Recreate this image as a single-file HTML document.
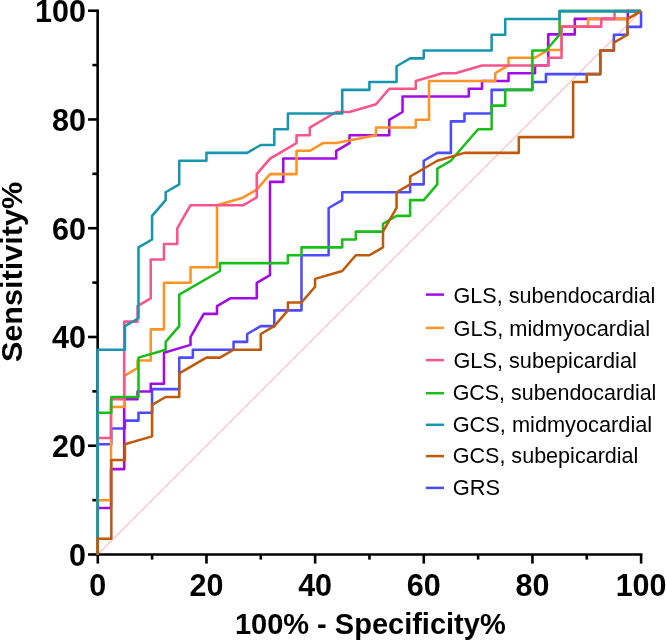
<!DOCTYPE html>
<html lang="en">
<head>
<meta charset="utf-8">
<title>ROC curves</title>
<style>
html,body{margin:0;padding:0;background:#fff;}
body{width:666px;height:641px;overflow:hidden;}
svg{display:block;will-change:transform;}
.tick{font-family:"Liberation Sans",sans-serif;font-weight:700;font-size:30.5px;fill:#000;}
.title{font-family:"Liberation Sans",sans-serif;font-weight:700;font-size:29px;fill:#000;}
.leg{font-family:"Liberation Sans",sans-serif;font-weight:400;font-size:21.6px;fill:#000;}
</style>
</head>
<body>
<svg width="666" height="641" viewBox="0 0 666 641">
<rect x="0" y="0" width="666" height="641" fill="#ffffff"/>
<line x1="97.80" y1="554.50" x2="641.10" y2="11.20" stroke="#ff2d3c" stroke-width="0.5"/>
<g stroke="#000" stroke-width="2.60" fill="none" stroke-linecap="butt">
<line x1="97.65" y1="9.40" x2="97.65" y2="555.80"/>
<line x1="96.35" y1="554.50" x2="642.40" y2="554.50"/>
<line x1="88.05" y1="554.50" x2="97.65" y2="554.50"/>
<line x1="97.80" y1="554.50" x2="97.80" y2="563.60"/>
<line x1="92.35" y1="500.12" x2="97.65" y2="500.12"/>
<line x1="152.13" y1="554.50" x2="152.13" y2="559.60"/>
<line x1="88.05" y1="445.74" x2="97.65" y2="445.74"/>
<line x1="206.46" y1="554.50" x2="206.46" y2="563.60"/>
<line x1="92.35" y1="391.36" x2="97.65" y2="391.36"/>
<line x1="260.79" y1="554.50" x2="260.79" y2="559.60"/>
<line x1="88.05" y1="336.98" x2="97.65" y2="336.98"/>
<line x1="315.12" y1="554.50" x2="315.12" y2="563.60"/>
<line x1="92.35" y1="282.60" x2="97.65" y2="282.60"/>
<line x1="369.45" y1="554.50" x2="369.45" y2="559.60"/>
<line x1="88.05" y1="228.22" x2="97.65" y2="228.22"/>
<line x1="423.78" y1="554.50" x2="423.78" y2="563.60"/>
<line x1="92.35" y1="173.84" x2="97.65" y2="173.84"/>
<line x1="478.11" y1="554.50" x2="478.11" y2="559.60"/>
<line x1="88.05" y1="119.46" x2="97.65" y2="119.46"/>
<line x1="532.44" y1="554.50" x2="532.44" y2="563.60"/>
<line x1="92.35" y1="65.08" x2="97.65" y2="65.08"/>
<line x1="586.77" y1="554.50" x2="586.77" y2="559.60"/>
<line x1="88.05" y1="10.70" x2="97.65" y2="10.70"/>
<line x1="641.10" y1="554.50" x2="641.10" y2="563.60"/>
</g>
<g class="tick" text-anchor="end">
<text x="86.0" y="566.00">0</text>
<text x="86.0" y="457.24">20</text>
<text x="86.0" y="348.48">40</text>
<text x="86.0" y="239.72">60</text>
<text x="86.0" y="130.96">80</text>
<text x="86.0" y="22.20">100</text>
</g>
<g class="tick" text-anchor="middle">
<text x="97.80" y="595.6">0</text>
<text x="206.46" y="595.6">20</text>
<text x="315.12" y="595.6">40</text>
<text x="423.78" y="595.6">60</text>
<text x="532.44" y="595.6">80</text>
<text x="641.10" y="595.6">100</text>
</g>
<text class="title" x="370.3" y="634.4" text-anchor="middle">100% - Specificity%</text>
<text class="title" transform="translate(22.4 272) rotate(-90) scale(1.055 1)" text-anchor="middle">Sensitivity%</text>
<g fill="none" stroke-width="2.55" stroke-linejoin="round" stroke-linecap="butt">
<polyline stroke="#4B4BFF" points="97.75,554.50 97.75,444.24 111.33,444.24 111.33,428.49 124.92,428.49 124.92,420.62 138.50,420.62 138.50,412.74 152.08,412.74 152.08,389.12 179.25,389.12 179.25,357.62 192.83,357.62 192.83,349.74 233.57,349.74 233.57,341.87 247.16,341.87 247.16,333.99 260.74,326.11 274.32,326.11 274.32,310.36 301.49,310.36 301.49,255.24 328.65,255.24 328.65,207.98 342.24,200.11 342.24,192.23 410.15,192.23 410.15,184.36 423.73,184.36 423.73,160.73 437.31,152.86 450.90,152.86 450.90,121.36 464.48,121.36 464.48,113.48 491.64,113.48 491.64,89.85 532.39,89.85 532.39,81.98 545.97,81.98 545.97,74.10 600.30,74.10 600.30,50.48 613.89,50.48 613.89,34.73 627.47,34.73 627.47,26.85 641.05,26.85 641.05,11.10"/>
<polyline stroke="#A30BE6" points="97.75,554.50 97.75,507.92 111.00,507.92 111.00,469.11 124.25,469.11 124.25,399.24 137.50,399.24 137.50,391.48 150.75,391.48 150.75,383.72 164.01,383.72 164.01,352.67 190.51,344.90 190.51,337.14 203.76,313.85 217.01,313.85 217.01,306.09 230.26,298.33 256.76,298.33 256.76,282.80 270.02,275.04 270.02,181.88 283.27,181.88 283.27,158.59 336.27,158.59 336.27,150.83 349.52,143.07 349.52,135.31 389.28,135.31 389.28,119.78 402.53,112.02 402.53,96.49 468.78,96.49 468.78,88.73 482.04,88.73 482.04,80.97 508.54,80.97 508.54,73.20 535.04,73.20 535.04,65.44 548.29,65.44 548.29,34.39 574.79,34.39 574.79,18.86 627.80,18.86 627.80,11.10 641.05,11.10"/>
<polyline stroke="#FF9326" points="97.75,554.50 97.75,500.16 111.00,500.16 111.00,407.01 124.25,407.01 124.25,375.95 137.50,368.19 137.50,360.43 150.75,360.43 150.75,329.38 164.01,329.38 164.01,282.80 190.51,282.80 190.51,267.27 217.01,267.27 217.01,205.17 243.51,197.41 256.76,189.65 270.02,174.12 296.52,174.12 296.52,150.83 309.77,150.83 323.02,143.07 336.27,143.07 376.03,135.31 376.03,127.54 415.78,127.54 415.78,119.78 429.03,119.78 429.03,80.97 495.29,80.97 495.29,73.20 508.54,65.44 508.54,57.68 535.04,57.68 548.29,49.91 561.54,49.91 561.54,26.63 588.05,26.63 588.05,18.86 627.80,18.86 641.05,11.10"/>
<polyline stroke="#F7558C" points="97.75,554.50 97.75,438.06 111.00,438.06 111.00,399.24 124.25,399.24 124.25,321.61 137.50,321.61 137.50,306.09 150.75,298.33 150.75,259.51 164.01,259.51 164.01,243.99 177.26,243.99 177.26,228.46 190.51,205.17 243.51,205.17 256.76,197.41 256.76,174.12 270.02,158.59 296.52,143.07 296.52,135.31 309.77,135.31 309.77,127.54 336.27,112.02 349.52,112.02 376.03,104.25 389.28,88.73 415.78,88.73 415.78,80.97 442.28,73.20 455.53,73.20 482.04,65.44 548.29,65.44 548.29,57.68 561.54,57.68 561.54,26.63 601.30,26.63 601.30,18.86 614.55,18.86 614.55,11.10 641.05,11.10"/>
<polyline stroke="#19BE19" points="97.75,554.50 97.75,412.74 111.33,412.74 111.33,396.99 138.50,396.99 138.50,357.62 165.66,349.74 165.66,341.87 179.25,326.11 179.25,294.61 219.99,270.99 219.99,263.11 287.91,263.11 287.91,255.24 301.49,255.24 301.49,247.36 342.24,247.36 342.24,239.49 355.82,239.49 355.82,231.61 382.98,231.61 382.98,223.73 396.57,215.86 410.15,215.86 410.15,200.11 423.73,200.11 437.31,184.36 437.31,168.61 450.90,160.73 478.06,129.23 491.64,129.23 491.64,105.60 505.23,105.60 505.23,89.85 532.39,89.85 532.39,50.48 545.97,50.48 559.56,34.73 559.56,18.98 559.56,11.10 641.05,11.10"/>
<polyline stroke="#1996AF" points="97.75,554.50 97.75,349.74 124.92,349.74 124.92,326.11 138.50,318.24 138.50,247.36 152.08,239.49 152.08,215.86 165.66,200.11 165.66,192.23 179.25,184.36 179.25,160.73 206.41,160.73 206.41,152.86 247.16,152.86 260.74,144.98 274.32,144.98 274.32,129.23 287.91,129.23 287.91,113.48 342.24,113.48 342.24,89.85 369.40,89.85 369.40,81.98 396.57,81.98 396.57,66.23 410.15,58.35 423.73,58.35 423.73,50.48 491.64,50.48 491.64,34.73 505.23,34.73 505.23,18.98 559.56,18.98 559.56,11.10 641.05,11.10"/>
<polyline stroke="#BE5A0A" points="97.75,554.50 97.75,538.75 111.33,538.75 111.33,460.00 124.92,460.00 124.92,444.24 152.08,436.37 152.08,404.87 165.66,396.99 179.25,396.99 179.25,373.37 206.41,357.62 219.99,357.62 233.57,349.74 260.74,349.74 260.74,333.99 274.32,326.11 287.91,310.36 287.91,302.49 301.49,302.49 315.07,286.74 315.07,278.86 342.24,270.99 355.82,255.24 369.40,255.24 382.98,247.36 382.98,231.61 396.57,207.98 396.57,192.23 410.15,184.36 410.15,176.48 437.31,160.73 464.48,152.86 518.81,152.86 518.81,137.11 573.14,137.11 573.14,81.98 586.72,81.98 586.72,74.10 600.30,74.10 600.30,50.48 613.89,50.48 613.89,42.60 627.47,34.73 627.47,18.98 641.05,11.10"/>
</g>
<g stroke-width="2.5" stroke-linecap="butt">
<line x1="425.8" y1="294.60" x2="444.0" y2="294.60" stroke="#A30BE6"/>
<line x1="425.8" y1="327.90" x2="444.0" y2="327.90" stroke="#FF9326"/>
<line x1="425.8" y1="360.10" x2="444.0" y2="360.10" stroke="#F7558C"/>
<line x1="425.8" y1="393.20" x2="444.0" y2="393.20" stroke="#19BE19"/>
<line x1="425.8" y1="424.80" x2="444.0" y2="424.80" stroke="#1996AF"/>
<line x1="425.8" y1="456.10" x2="444.0" y2="456.10" stroke="#BE5A0A"/>
<line x1="425.8" y1="487.90" x2="444.0" y2="487.90" stroke="#4B4BFF"/>
</g>
<g class="leg">
<text x="453.5" y="302.90" textLength="201.9" lengthAdjust="spacingAndGlyphs">GLS, subendocardial</text>
<text x="453.5" y="335.60" textLength="196.6" lengthAdjust="spacingAndGlyphs">GLS, midmyocardial</text>
<text x="453.5" y="367.70" textLength="183.3" lengthAdjust="spacingAndGlyphs">GLS, subepicardial</text>
<text x="452.7" y="399.80" textLength="203.7" lengthAdjust="spacingAndGlyphs">GCS, subendocardial</text>
<text x="452.7" y="431.80" textLength="199.5" lengthAdjust="spacingAndGlyphs">GCS, midmyocardial</text>
<text x="452.7" y="463.40" textLength="185.7" lengthAdjust="spacingAndGlyphs">GCS, subepicardial</text>
<text x="452.7" y="495.00" textLength="47.4" lengthAdjust="spacingAndGlyphs">GRS</text>
</g>
</svg>
</body>
</html>
